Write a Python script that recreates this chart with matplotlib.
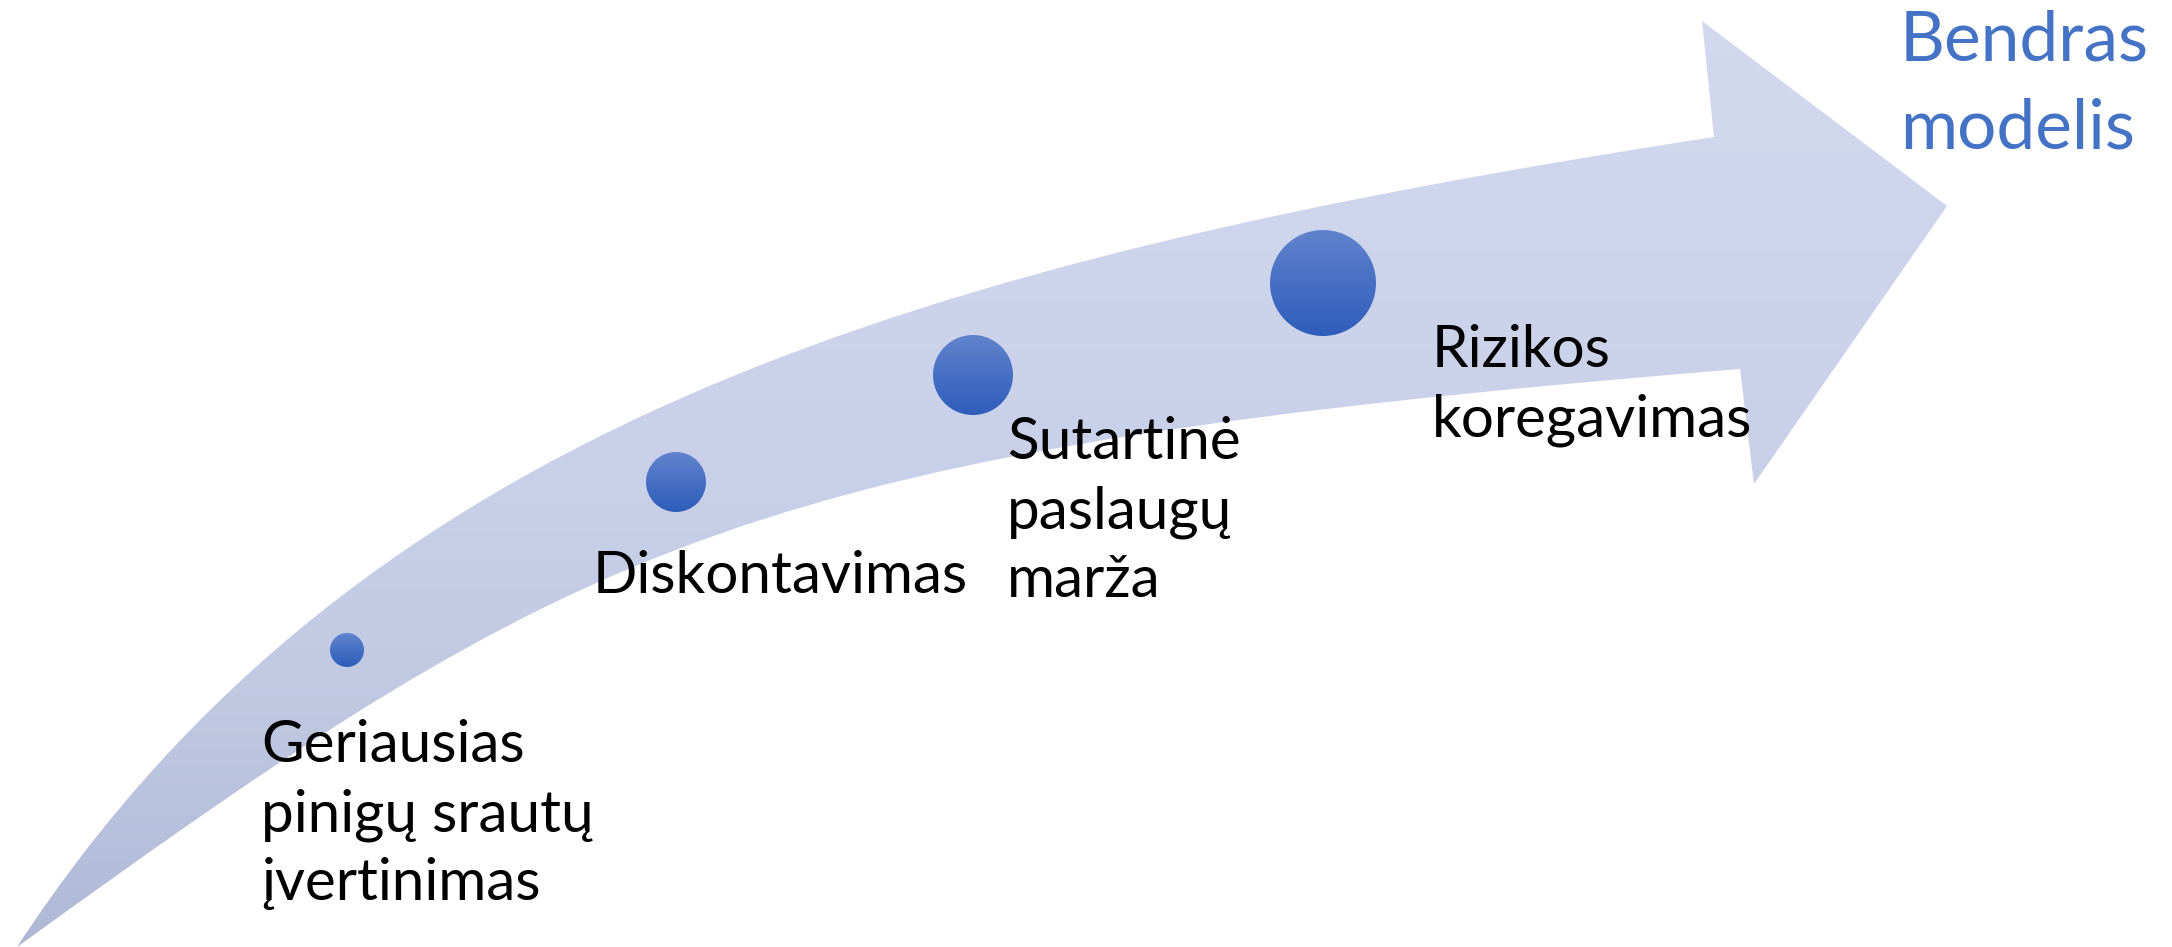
import numpy as np
import matplotlib
matplotlib.use("Agg")
import matplotlib.pyplot as plt
from matplotlib.path import Path
from matplotlib.patches import PathPatch, Circle

# --- contenu du schéma (coordonnées en pixels de l'image) ---
etapes = [
    ["Geriausias", "pinigų srautų", "įvertinimas"],
    ["Diskontavimas"],
    ["Sutartinė", "paslaugų", "marža"],
    ["Rizikos", "koregavimas"],
]
etapes_x = [261, 593, 1007, 1432]
etapes_y = [762, 593, 459, 367]

titre_lignes = ["Bendras", "modelis"]
titre_x = 1900
titre_y = 60

cercles_x = [347, 676, 973, 1323]
cercles_y = [650, 482, 375, 283]
cercles_r = [17, 30, 40, 53]

# bords de la flèche (courbes de Bézier cubiques) et pointe
bord_haut = [(17, 947), (360, 422), (924, 259), (1714, 137)]
bord_bas = [(17, 947), (584, 537), (743, 450), (1740, 369)]
pointe = [(1702, 21), (1947, 206), (1754, 484)]

W, H = 2172, 947

fig = plt.figure(figsize=(W / 100, H / 100), dpi=100)
ax = fig.add_axes([0, 0, 1, 1])
ax.set_xlim(0, W)
ax.set_ylim(H, 0)
ax.axis("off")

# contour de la flèche
verts = list(bord_haut)
codes = [Path.MOVETO, Path.CURVE4, Path.CURVE4, Path.CURVE4]
for p in pointe:
    verts.append(p)
    codes.append(Path.LINETO)
verts.append(bord_bas[3])
codes.append(Path.LINETO)
verts += [bord_bas[2], bord_bas[1], bord_bas[0]]
codes += [Path.CURVE4, Path.CURVE4, Path.CURVE4]
verts.append(bord_haut[0])
codes.append(Path.CLOSEPOLY)
fleche = PathPatch(Path(verts, codes), facecolor="none", edgecolor="none")
ax.add_patch(fleche)

# dégradé vertical de la flèche
pos = np.array([0, 300, 500, 650, 800, 947])
rgb = np.array([[211, 217, 238], [205, 211, 235], [200, 207, 232],
                [195, 202, 228], [186, 195, 222], [174, 184, 213]]) / 255
yy = np.linspace(0, H, 400)
grad = np.stack([np.interp(yy, pos, rgb[:, k]) for k in range(3)], axis=-1)
im = ax.imshow(grad[:, None, :], extent=(0, W, H, 0), aspect="auto",
               interpolation="bilinear", zorder=1)
im.set_clip_path(fleche)

# cercles avec dégradé
haut = np.array([96, 131, 205]) / 255
bas = np.array([46, 93, 186]) / 255
t = np.linspace(0, 1, 100)[:, None]
grad_c = (1 - t) * haut + t * bas
for cx, cy, r in zip(cercles_x, cercles_y, cercles_r):
    c = Circle((cx, cy), r, facecolor="none", edgecolor="none")
    ax.add_patch(c)
    imc = ax.imshow(grad_c[:, None, :], extent=(cx - r, cx + r, cy + r, cy - r),
                    aspect="auto", interpolation="bilinear", zorder=2)
    imc.set_clip_path(c)

# textes
for lignes, x, y in zip(etapes, etapes_x, etapes_y):
    for i, ligne in enumerate(lignes):
        ax.text(x, y + i * 69, ligne, fontsize=42, family="Lato",
                color="black", va="baseline", ha="left", zorder=3)

for i, ligne in enumerate(titre_lignes):
    ax.text(titre_x, titre_y + i * 88, ligne, fontsize=50, family="Lato",
            color="#4472C4", va="baseline", ha="left", zorder=3)

fig.savefig("out.png", dpi=100)
